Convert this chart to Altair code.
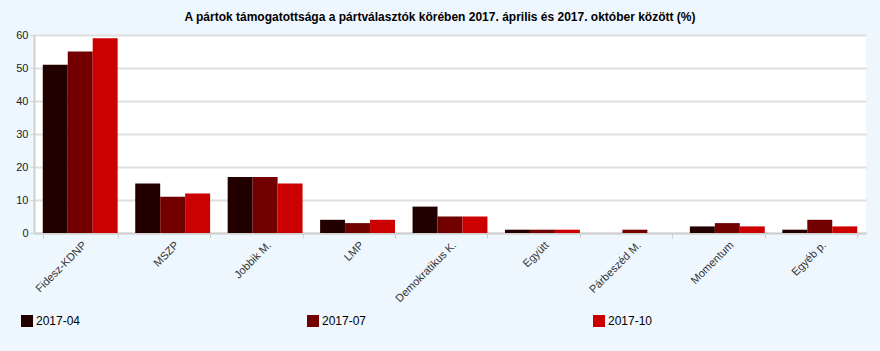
import altair as alt
import pandas as pd

parties = ["Fidesz-KDNP", "MSZP", "Jobbik M.", "LMP", "Demokratikus K.",
           "Együtt", "Párbeszéd M.", "Momentum", "Egyéb p."]
periods = ["2017-04", "2017-07", "2017-10"]
v_2017_04 = [51, 15, 17, 4, 8, 1, 0, 2, 1]
v_2017_07 = [55, 11, 17, 3, 5, 1, 1, 3, 4]
v_2017_10 = [59, 12, 15, 4, 5, 1, 0, 2, 2]
colors = ["#220000", "#730000", "#CC0000"]
title = "A pártok támogatottsága a pártválasztók körében 2017. április és 2017. október között (%)"

rows = []
for period, vals in zip(periods, [v_2017_04, v_2017_07, v_2017_10]):
    for p, v in zip(parties, vals):
        rows.append({"party": p, "period": period, "value": v})
df = pd.DataFrame(rows)

FONT = "Arial, Liberation Sans"

chart = alt.Chart(df).mark_bar().encode(
    x=alt.X("party:N", sort=parties,
            scale=alt.Scale(paddingInner=0.19, paddingOuter=0.095),
            axis=alt.Axis(title=None, labelAngle=-45, tickBand="extent",
                          labelFontSize=11, labelColor="#333333", labelFont=FONT,
                          domainColor="#D0D0D0", domainWidth=2,
                          tickColor="#D0D0D0", tickSize=5, labelPadding=1,
                          grid=False)),
    xOffset=alt.XOffset("period:N", sort=periods,
                        scale=alt.Scale(paddingInner=0, paddingOuter=0)),
    y=alt.Y("value:Q", scale=alt.Scale(domain=[0, 60], nice=False),
            axis=alt.Axis(title=None, values=[0, 10, 20, 30, 40, 50, 60],
                          labelFontSize=11, labelColor="#222222", labelFont=FONT,
                          domainColor="#D0D0D0", domainWidth=2,
                          tickColor="#D0D0D0", tickSize=4, labelPadding=2,
                          gridColor="#E0E0E0", gridWidth=2)),
    color=alt.Color("period:N",
                    scale=alt.Scale(domain=periods, range=colors),
                    legend=alt.Legend(title=None, orient="none", legendX=-13, legendY=280,
                                      direction="horizontal", columnPadding=226,
                                      symbolType="square", symbolSize=144,
                                      symbolStrokeWidth=0, labelFontSize=12,
                                      labelFont=FONT, labelColor="#000000",
                                      labelOffset=3)),
).properties(
    width=832, height=198,
    title=alt.TitleParams(title, fontSize=12, font=FONT, fontWeight="bold",
                          color="#000000", anchor="middle", dx=-10, offset=5),
    autosize=alt.AutoSizeParams(type="none"),
    padding={"left": 34, "top": 35, "right": 14, "bottom": 118},
    background="#EEF6FE",
).configure_view(fill="white", stroke=None)

chart.save("out.html", embed_options={"renderer": "svg", "actions": False})
